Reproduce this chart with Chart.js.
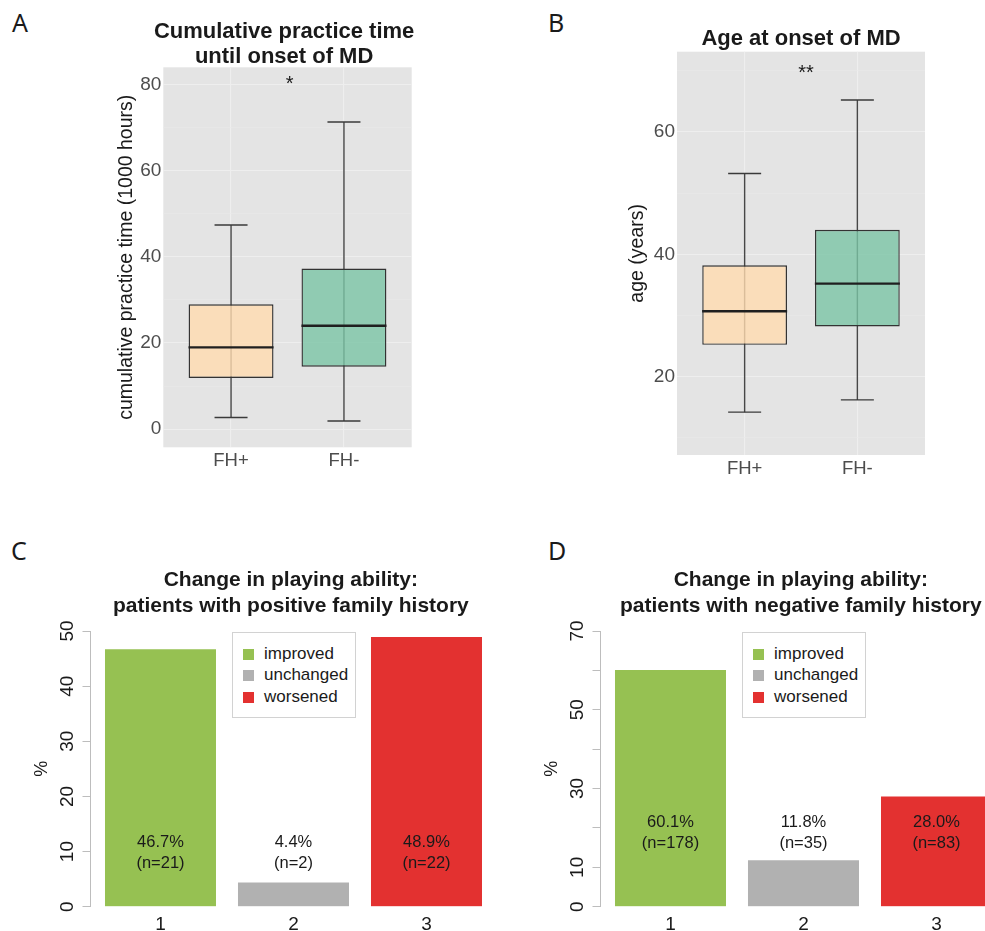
<!DOCTYPE html>
<html>
<head>
<meta charset="utf-8">
<script src="https://cdn.jsdelivr.net/npm/chart.js@4.4.1/dist/chart.umd.min.js"></script>
<style>
  html, body { margin: 0; padding: 0; background: #fff; overflow: hidden; }
  body { position: relative; width: 985px; height: 931px; }
  canvas { position: absolute; }
  .letter { position: absolute; font-family: "Noto Sans", sans-serif; font-size: 25px; line-height: 1; color: #1a1a1a; }
  .legend { position: absolute; width: 124px; height: 86px; border: 1px solid #d2d2d2; background: #fff; box-sizing: border-box; }
  .legend .sw { position: absolute; left: 10px; width: 11px; height: 11px; }
  .legend .tx { position: absolute; left: 31px; font-family: "Liberation Sans", Arial, sans-serif; font-size: 17px; line-height: 17px; color: #1a1a1a; white-space: nowrap; }
</style>
</head>
<body>
<div class="letter" style="left:12px;top:10px">A</div>
<div class="letter" style="left:548px;top:10px">B</div>
<div class="letter" style="left:11px;top:538px">C</div>
<div class="letter" style="left:548px;top:538px">D</div>

<canvas id="chartA" width="500" height="490" style="left:0;top:0"></canvas>
<canvas id="chartB" width="465" height="490" style="left:520px;top:0"></canvas>
<canvas id="chartC" width="520" height="401" style="left:0;top:530px"></canvas>
<canvas id="chartD" width="465" height="401" style="left:520px;top:530px"></canvas>

<div class="legend" id="legendC" style="left:232px;top:632px"></div>
<div class="legend" id="legendD" style="left:742px;top:632px"></div>

<script>
// groups in the two box plots
const groups = ['FH+', 'FH-'];

// cumulative practice time until onset (1000 hours)
const practiceMin = [2.7, 1.9];
const practiceQ1 = [11.9, 14.5];
const practiceMedian = [19.0, 24.0];
const practiceQ3 = [29.0, 37.3];
const practiceMax = [47.4, 71.3];
const practiceTicks = [0, 20, 40, 60, 80];
const practiceMinorTicks = [10, 30, 50, 70];

// age at onset (years)
const ageMin = [14.2, 16.2];
const ageQ1 = [25.2, 28.2];
const ageMedian = [30.7, 35.2];
const ageQ3 = [38.2, 44.0];
const ageMax = [53.2, 65.2];
const ageTicks = [20, 40, 60];
const ageMinorTicks = [10, 30, 50, 70];

// change in playing ability
const abilityCategories = ['1', '2', '3'];
const abilityLabels = ['improved', 'unchanged', 'worsened'];
const positivePct = [46.7, 4.4, 48.9];
const positiveN = [21, 2, 22];
const negativePct = [60.1, 11.8, 28.0];
const negativeN = [178, 35, 83];
const positiveTicks = [0, 10, 20, 30, 40, 50];
const positiveTickLabels = [0, 10, 20, 30, 40, 50];
const negativeTicks = [0, 10, 20, 30, 40, 50, 60, 70];
const negativeTickLabels = [0, 10, 30, 50, 70];

const FONT = "'Liberation Sans', Arial, Helvetica, sans-serif";
const INK = '#1a1a1a';
const PANEL_BG = '#e4e4e4';
const GRID_MAJOR = '#eeeeee';
const GRID_MINOR = '#e9e9e9';
const AXIS_GRAY = '#bdbdbd';
const boxFills = ['rgba(255, 219, 175, 0.8)', 'rgba(122, 196, 165, 0.8)'];
const abilityColors = ['#96c152', '#b1b1b1', '#e33130'];

// gray panel behind the box plots
const panelBg = {
  id: 'panelBg',
  beforeDraw(chart, args, opts) {
    if (!opts.color) return;
    const { ctx, chartArea: a } = chart;
    ctx.save();
    ctx.fillStyle = opts.color;
    ctx.fillRect(a.left, a.top, a.right - a.left, a.bottom - a.top);
    ctx.restore();
  }
};

// bold title, centred on a value of the x scale
const panelTitle = {
  id: 'panelTitle',
  afterDraw(chart, args, opts) {
    const ctx = chart.ctx;
    const x = chart.scales.x.getPixelForValue(opts.at);
    ctx.save();
    ctx.font = 'bold ' + opts.size + 'px ' + FONT;
    ctx.fillStyle = INK;
    ctx.textAlign = 'center';
    ctx.textBaseline = 'alphabetic';
    opts.lines.forEach((line, i) => ctx.fillText(line, x, opts.baseline + i * opts.spacing));
    ctx.restore();
  }
};

// significance stars
const sigMark = {
  id: 'sigMark',
  afterDatasetsDraw(chart, args, opts) {
    if (!opts.text) return;
    const ctx = chart.ctx;
    ctx.save();
    ctx.font = '20px ' + FONT;
    ctx.fillStyle = INK;
    ctx.textAlign = 'center';
    ctx.textBaseline = 'middle';
    ctx.fillText(opts.text, chart.scales.x.getPixelForValue(opts.x), chart.scales.y.getPixelForValue(opts.y));
    ctx.restore();
  }
};

// percentage and n inside / above the bars
const barText = {
  id: 'barText',
  afterDatasetsDraw(chart, args, opts) {
    if (!opts.pct) return;
    const ctx = chart.ctx;
    const y = chart.scales.y.getPixelForValue(opts.at);
    ctx.save();
    ctx.font = '16.5px ' + FONT;
    ctx.fillStyle = INK;
    ctx.textAlign = 'center';
    ctx.textBaseline = 'middle';
    chart.getDatasetMeta(0).data.forEach((bar, i) => {
      ctx.fillText(opts.pct[i].toFixed(1) + '%', bar.x, y - 10.5);
      ctx.fillText('(n=' + opts.n[i] + ')', bar.x, y + 10.5);
    });
    ctx.restore();
  }
};

// rotated y tick labels, base R style
const rotatedTicks = {
  id: 'rotatedTicks',
  afterDraw(chart, args, opts) {
    if (!opts.values) return;
    const ctx = chart.ctx;
    const sc = chart.scales.y;
    ctx.save();
    ctx.font = '19px ' + FONT;
    ctx.fillStyle = INK;
    ctx.textAlign = 'center';
    ctx.textBaseline = 'middle';
    opts.values.forEach(v => {
      ctx.save();
      ctx.translate(chart.chartArea.left - 22, sc.getPixelForValue(v));
      ctx.rotate(-Math.PI / 2);
      ctx.fillText(String(v), 0, 0);
      ctx.restore();
    });
    ctx.restore();
  }
};

function boxChart(id, s) {
  const pts = arr => arr.map((v, i) => ({ x: i + 1, y: v }));
  const spans = (lo, hi) => lo.map((v, i) => ({ x: i + 1, y: [v, hi[i]] }));
  return new Chart(document.getElementById(id), {
    type: 'bar',
    data: {
      datasets: [
        { label: 'whisker', data: spans(s.min, s.max), backgroundColor: '#474747',
          grouped: false, barPercentage: 0.0124, categoryPercentage: 1, order: 3 },
        { label: 'box', data: spans(s.q1, s.q3), backgroundColor: boxFills,
          borderColor: '#333333', borderWidth: 1.4, borderSkipped: false,
          grouped: false, barPercentage: 0.752, categoryPercentage: 1, order: 2 },
        { type: 'line', label: 'median', data: pts(s.median), showLine: false,
          pointStyle: 'line', pointRadius: 42.5, pointBorderWidth: 2.4, pointBorderColor: '#1f1f1f', order: 1 },
        { type: 'line', label: 'lower', data: pts(s.min), showLine: false,
          pointStyle: 'line', pointRadius: 16.5, pointBorderWidth: 1.4, pointBorderColor: '#3a3a3a', order: 1 },
        { type: 'line', label: 'upper', data: pts(s.max), showLine: false,
          pointStyle: 'line', pointRadius: 16.5, pointBorderWidth: 1.4, pointBorderColor: '#3a3a3a', order: 1 }
      ]
    },
    options: {
      responsive: false,
      animation: false,
      events: [],
      layout: { autoPadding: false, padding: { top: s.top, right: s.right, left: 0, bottom: 0 } },
      plugins: {
        legend: { display: false },
        tooltip: { enabled: false },
        panelBg: { color: PANEL_BG },
        panelTitle: { lines: s.title, at: s.titleAt, baseline: s.titleBaseline, spacing: 24.4, size: 22 },
        sigMark: { text: s.sig, x: s.sigX, y: s.sigY }
      },
      scales: {
        x: {
          type: 'linear', min: 0.4, max: 2.6, offset: false,
          afterBuildTicks: sc => { sc.ticks = groups.map((g, i) => ({ value: i + 1 })); },
          afterFit: sc => { sc.height = s.xHeight; },
          grid: { offset: false, color: GRID_MAJOR, lineWidth: 1.1, drawTicks: false },
          border: { display: false },
          ticks: { callback: v => groups[v - 1], color: '#4d4d4d', font: { family: FONT, size: 18.5 },
                   padding: 3, maxRotation: 0, autoSkip: false }
        },
        y: {
          min: s.yMin, max: s.yMax,
          afterBuildTicks: sc => {
            sc.ticks = s.major.concat(s.minor).sort((a, b) => a - b).map(v => ({ value: v }));
          },
          afterFit: sc => { sc.width = s.yWidth; },
          grid: {
            color: c => (c.tick && s.minor.includes(c.tick.value)) ? GRID_MINOR : GRID_MAJOR,
            lineWidth: c => (c.tick && s.minor.includes(c.tick.value)) ? 0.6 : 1.1,
            drawTicks: false
          },
          border: { display: false },
          ticks: { callback: v => s.major.includes(v) ? String(v) : '', color: '#4d4d4d',
                   font: { family: FONT, size: 19 }, padding: 2, autoSkip: false },
          title: { display: true, text: s.yTitle, color: INK, font: { family: FONT, size: 19.5 },
                   padding: { top: s.yTitlePad, bottom: 0 } }
        }
      }
    },
    plugins: [panelBg, panelTitle, sigMark]
  });
}

function abilityChart(id, s) {
  return new Chart(document.getElementById(id), {
    type: 'bar',
    data: {
      datasets: [{
        data: abilityCategories.map((c, i) => ({ x: i + 1, y: s.pct[i] })),
        backgroundColor: abilityColors,
        borderWidth: 0,
        barPercentage: 0.8346,
        categoryPercentage: 1
      }]
    },
    options: {
      responsive: false,
      animation: false,
      events: [],
      layout: { autoPadding: false, padding: { top: 101, right: s.right, left: 0, bottom: 0 } },
      plugins: {
        legend: { display: false },
        tooltip: { enabled: false },
        panelTitle: { lines: s.title, at: 1.98, baseline: 56, spacing: 25.7, size: 21 },
        barText: { pct: s.pct, n: s.n, at: s.labelAt },
        rotatedTicks: { values: s.tickLabels }
      },
      scales: {
        x: {
          type: 'linear', min: 0.47, max: s.xMax, offset: false,
          afterBuildTicks: sc => { sc.ticks = abilityCategories.map((c, i) => ({ value: i + 1 })); },
          afterFit: sc => { sc.height = 24.3; },
          grid: { display: false, drawTicks: false, offset: false },
          border: { display: false },
          ticks: { callback: v => abilityCategories[v - 1], color: INK, font: { family: FONT, size: 19 },
                   padding: 6.3, maxRotation: 0, autoSkip: false }
        },
        y: {
          min: 0, max: s.yMax,
          afterBuildTicks: sc => { sc.ticks = s.ticks.map(v => ({ value: v })); },
          afterFit: sc => { sc.width = s.yWidth; },
          grid: { drawOnChartArea: false, drawTicks: true, tickLength: 7.5, color: AXIS_GRAY, tickColor: AXIS_GRAY, lineWidth: 1 },
          border: { display: true, color: AXIS_GRAY, width: 1 },
          ticks: { display: false },
          title: { display: true, text: '%', color: INK, font: { family: FONT, size: 18 },
                   padding: { top: s.yTitlePad, bottom: 0 } }
        }
      }
    },
    plugins: [panelTitle, barText, rotatedTicks]
  });
}

boxChart('chartA', {
  min: practiceMin, q1: practiceQ1, median: practiceMedian, q3: practiceQ3, max: practiceMax,
  major: practiceTicks, minor: practiceMinorTicks, yMin: -4.2, yMax: 84,
  title: ['Cumulative practice time', 'until onset of MD'], titleBaseline: 38.3, titleAt: 1.47,
  sig: '*', sigX: 1.52, sigY: 80,
  yTitle: 'cumulative practice time (1000 hours)', yTitlePad: 115.3,
  top: 67.3, right: 88.3, yWidth: 163.3, xHeight: 42.7
});

boxChart('chartB', {
  min: ageMin, q1: ageQ1, median: ageMedian, q3: ageQ3, max: ageMax,
  major: ageTicks, minor: ageMinorTicks, yMin: 7.2, yMax: 73.1,
  title: ['Age at onset of MD'], titleBaseline: 45, titleAt: 1.5,
  sig: '**', sigX: 1.545, sigY: 69.6,
  yTitle: 'age (years)', yTitlePad: 106.3,
  top: 51.7, right: 60, yWidth: 157, xHeight: 35
});

abilityChart('chartC', {
  pct: positivePct, n: positiveN, labelAt: 9.8,
  title: ['Change in playing ability:', 'patients with positive family history'],
  ticks: positiveTicks, tickLabels: positiveTickLabels, yMax: 50,
  yWidth: 90, yTitlePad: 31.7, right: 30, xMax: 3.4775
});

abilityChart('chartD', {
  pct: negativePct, n: negativeN, labelAt: 18.7,
  title: ['Change in playing ability:', 'patients with negative family history'],
  ticks: negativeTicks, tickLabels: negativeTickLabels, yMax: 70,
  yWidth: 80, yTitlePad: 21.7, right: 0, xMax: 3.3647
});

// legends
function buildLegend(id) {
  const box = document.getElementById(id);
  abilityLabels.forEach((label, i) => {
    const mid = 21 + i * 21.5;
    const sw = document.createElement('div');
    sw.className = 'sw';
    sw.style.top = (mid - 5.5) + 'px';
    sw.style.background = abilityColors[i];
    const tx = document.createElement('div');
    tx.className = 'tx';
    tx.style.top = (mid - 9.5) + 'px';
    tx.textContent = label;
    box.appendChild(sw);
    box.appendChild(tx);
  });
}
buildLegend('legendC');
buildLegend('legendD');
</script>
</body>
</html>
